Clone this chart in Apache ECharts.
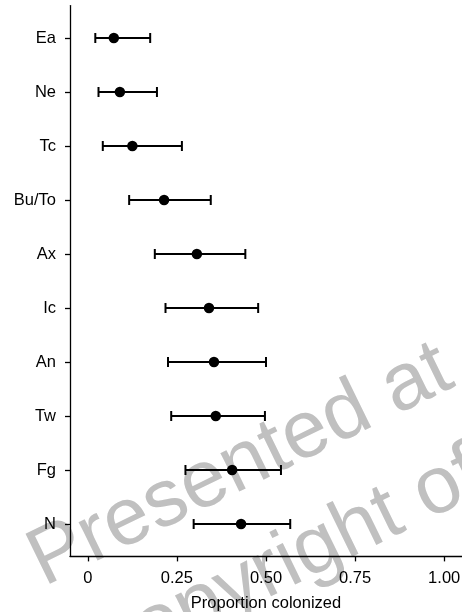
<!DOCTYPE html>
<html>
<head>
<meta charset="utf-8">
<script src="https://cdn.jsdelivr.net/npm/echarts@6/dist/echarts.min.js"></script>
<style>html,body{margin:0;padding:0;background:#fff;}#c{width:462px;height:612px;}</style>
</head>
<body>
<div id="c"></div>
<script>
const categories = ["Ea", "Ne", "Tc", "Bu/To", "Ax", "Ic", "An", "Tw", "Fg", "N"];
const means = [0.073, 0.090, 0.125, 0.214, 0.306, 0.340, 0.354, 0.359, 0.405, 0.430];
const lows  = [0.021, 0.030, 0.042, 0.116, 0.188, 0.218, 0.225, 0.234, 0.274, 0.297];
const highs = [0.175, 0.194, 0.264, 0.345, 0.442, 0.478, 0.500, 0.497, 0.542, 0.568];
const xTickValues = [0, 0.25, 0.5, 0.75, 1];
const xTickLabels = ["0", "0.25", "0.50", "0.75", "1.00"];
const xTitle = "Proportion colonized";
const watermark1 = "Presented at";
const watermark2 = "Copyright of";

const yPositions = categories.map((c, i) => i + 1);
const errData = categories.map((c, i) => [means[i], i + 1, lows[i], highs[i]]);
const ptData = categories.map((c, i) => [means[i], i + 1]);

const chart = echarts.init(document.getElementById('c'), null, {renderer: 'canvas'});
const font = '"Liberation Sans", Arial, sans-serif';
const ang = 26 * Math.PI / 180;

chart.setOption({
  animation: false,
  backgroundColor: '#ffffff',
  grid: {left: 70, right: 0, top: 5.6, bottom: 55.6, containLabel: false, outerBoundsMode: 'none'},
  xAxis: {
    type: 'value', min: -0.05, max: 1.05, z: 5,
    name: xTitle, nameLocation: 'middle', nameGap: 39,
    nameTextStyle: {color: '#000', fontSize: 16.5, fontFamily: font},
    axisLine: {show: true, onZero: false, lineStyle: {color: '#000', width: 1.3}},
    axisTick: {show: true, length: 5, customValues: xTickValues, lineStyle: {color: '#000', width: 1.3}},
    axisLabel: {customValues: xTickValues, margin: 14, color: '#000', fontSize: 16.5, fontFamily: font,
      formatter: v => { const k = xTickValues.indexOf(v); return k >= 0 ? xTickLabels[k] : ''; }},
    splitLine: {show: false}
  },
  yAxis: {
    type: 'value', min: 0.4, max: 10.6, inverse: true, z: 5,
    axisLine: {show: true, onZero: false, lineStyle: {color: '#000', width: 1.3}},
    axisTick: {show: true, length: 5, customValues: yPositions, lineStyle: {color: '#000', width: 1.3}},
    axisLabel: {customValues: yPositions, margin: 14, color: '#000', fontSize: 16.5, fontFamily: font,
      formatter: v => categories[Math.round(v) - 1] || ''},
    splitLine: {show: false}
  },
  series: [
    {
      type: 'custom',
      data: errData,
      encode: {x: [0, 2, 3], y: 1},
      renderItem: function (params, api) {
        const y = api.value(1);
        const lo = api.coord([api.value(2), y]);
        const hi = api.coord([api.value(3), y]);
        const h = 5;
        const st = {stroke: '#000', lineWidth: 2};
        return {
          type: 'group',
          children: [
            {type: 'line', shape: {x1: lo[0], y1: lo[1], x2: hi[0], y2: hi[1]}, style: st},
            {type: 'line', shape: {x1: lo[0], y1: lo[1] - h, x2: lo[0], y2: lo[1] + h}, style: st},
            {type: 'line', shape: {x1: hi[0], y1: hi[1] - h, x2: hi[0], y2: hi[1] + h}, style: st}
          ]
        };
      },
      z: 6
    },
    {
      type: 'scatter',
      data: ptData,
      symbol: 'circle',
      symbolSize: 10.5,
      itemStyle: {color: '#000', opacity: 1},
      z: 7
    }
  ],
  graphic: {
    z: -10,
    elements: [
      {type: 'text', x: 52, y: 603, rotation: ang, z: -10,
        style: {text: watermark1, fontSize: 81, fontFamily: font, fill: '#c0c0c0',
          textAlign: 'left', textVerticalAlign: 'bottom'}},
      {type: 'text', x: 104, y: 698, rotation: ang, z: -10,
        style: {text: watermark2, fontSize: 81, fontFamily: font, fill: '#c0c0c0',
          textAlign: 'left', textVerticalAlign: 'bottom'}}
    ]
  }
});
</script>
</body>
</html>
